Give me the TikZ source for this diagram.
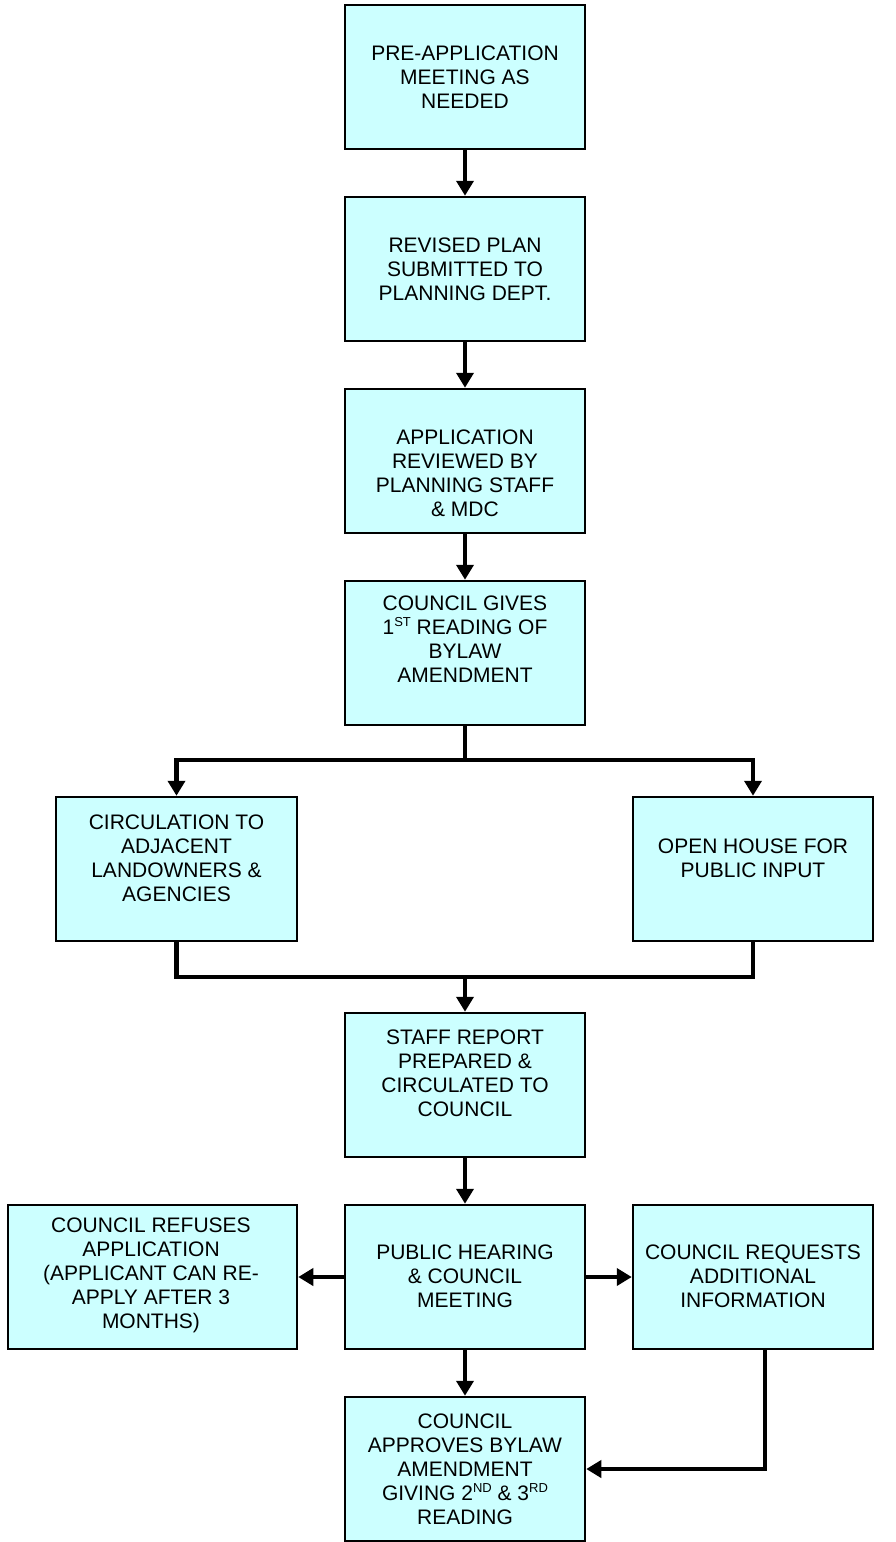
\documentclass[tikz,border=0pt]{standalone}
\usepackage{fontspec}
\setmainfont{Liberation Sans}
\usetikzlibrary{arrows.meta}
\definecolor{boxfill}{HTML}{CCFFFF}
\newcommand{\upr}[1]{\raisebox{8pt}{\fontsize{13}{13}\selectfont #1}}
\begin{document}
\begin{tikzpicture}[x=1pt, y=-1pt,
  box/.style={draw=black, line width=2.5pt, fill=boxfill, minimum width=240pt,
              minimum height=144pt, inner sep=0pt},
  txt/.style={align=center, inner sep=0pt, font=\fontsize{21}{24}\selectfont},
  conn/.style={line width=4.5pt, -{Triangle[width=17pt,length=15pt]}},
  link/.style={line width=4.5pt}]
\useasboundingbox (0,0) rectangle (896,1542);

% process boxes
\node[box] (pre) at (465,77) {};
\node[box] (rev) at (465,269) {};
\node[box] (app) at (465,461) {};
\node[box] (first) at (465,653) {};
\node[box, minimum width=241pt] (circ) at (176.5,869) {};
\node[box] (open) at (753,869) {};
\node[box] (staff) at (465,1085) {};
\node[box] (hear) at (465,1277) {};
\node[box, minimum width=289pt] (refuse) at (152.5,1277) {};
\node[box] (req) at (753,1277) {};
\node[box] (approve) at (465,1469) {};

% box texts
\node[txt] (tpre) at (465,77.5) {PRE-APPLICATION\\MEETING AS\\NEEDED};
\node[txt] (trev) at (465,269) {REVISED PLAN\\SUBMITTED TO\\PLANNING DEPT.};
\node[txt] (tapp) at (465,473) {APPLICATION\\REVIEWED BY\\PLANNING STAFF\\\& MDC};
\node[txt] (tfirst) at (465,639) {COUNCIL GIVES\\1\upr{ST} READING OF\\BYLAW\\AMENDMENT};
\node[txt] (tcirc) at (176.5,858) {CIRCULATION TO\\ADJACENT\\LANDOWNERS \&\\AGENCIES};
\node[txt] (topen) at (753,858.5) {OPEN HOUSE FOR\\PUBLIC INPUT};
\node[txt] (tstaff) at (465,1073) {STAFF REPORT\\PREPARED \&\\CIRCULATED TO\\COUNCIL};
\node[txt] (thear) at (465,1276.5) {PUBLIC HEARING\\\& COUNCIL\\MEETING};
\node[txt] (trefuse) at (151,1275) {COUNCIL REFUSES\\APPLICATION\\(APPLICANT CAN RE-\\APPLY AFTER 3\\MONTHS)};
\node[txt] (treq) at (753,1276) {COUNCIL REQUESTS\\ADDITIONAL\\INFORMATION};
\node[txt] (tapprove) at (465,1469) {COUNCIL\\APPROVES BYLAW\\AMENDMENT\\GIVING 2\upr{ND} \& 3\upr{RD}\\READING};

% junction points
\coordinate (split) at (465,760);
\coordinate (merge) at (465,977);

% connectors
\draw[conn] (pre) -- (rev);
\draw[conn] (rev) -- (app);
\draw[conn] (app) -- (first);
\draw[link] (first.south) -- (split);
\draw[conn] (split) -| (circ.north);
\draw[conn] (split) -| (open.north);
\draw[link] (circ.south) |- (merge) -| (open.south);
\draw[conn] (merge) -- (staff.north);
\draw[conn] (staff) -- (hear);
\draw[conn] (hear.west) -- (refuse.east);
\draw[conn] (hear.east) -- (req.west);
\draw[conn] (hear) -- (approve);
\draw[conn] ([xshift=12pt]req.south) |- (approve.east);
\end{tikzpicture}
\end{document}
